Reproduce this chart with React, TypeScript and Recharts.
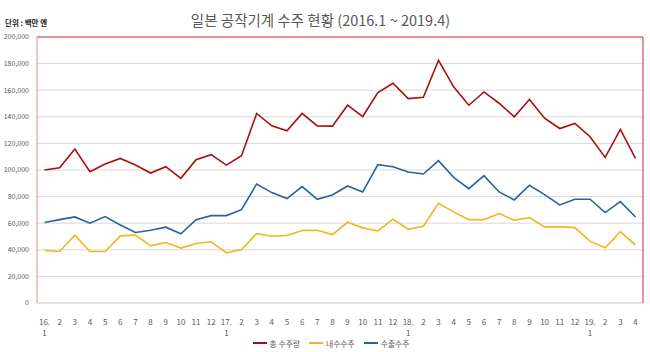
import React from "react";
import { LineChart, Line, XAxis, YAxis, CartesianGrid, Legend, ReferenceLine } from "recharts";

const periods = [
  "2016.1","2016.2","2016.3","2016.4","2016.5","2016.6","2016.7","2016.8","2016.9","2016.10","2016.11","2016.12",
  "2017.1","2017.2","2017.3","2017.4","2017.5","2017.6","2017.7","2017.8","2017.9","2017.10","2017.11","2017.12",
  "2018.1","2018.2","2018.3","2018.4","2018.5","2018.6","2018.7","2018.8","2018.9","2018.10","2018.11","2018.12",
  "2019.1","2019.2","2019.3","2019.4",
];
const tickLabels = [
  "16.|1","2","3","4","5","6","7","8","9","10","11","12",
  "17.|1","2","3","4","5","6","7","8","9","10","11","12",
  "18.|1","2","3","4","5","6","7","8","9","10","11","12",
  "19.|1","2","3","4",
];
const totalOrders = [100000,101700,115700,98700,104500,108700,103700,97700,102500,93700,107700,111500,103700,110700,142500,133200,129500,142500,133200,133000,148700,140200,158200,165200,153700,154700,182500,162500,148700,158700,150200,140000,153000,139000,131200,135000,125000,109500,130500,108700];
const domesticOrders = [39500,38700,51000,38700,38700,50500,51000,43000,45500,41300,44700,46000,37700,40200,52200,50200,50700,54500,54700,51500,60700,56500,54200,63000,55500,57700,75000,68500,62700,62700,67200,62200,64200,57200,57200,56700,46500,41500,53700,43500];
const exportOrders = [60500,62700,64700,60000,65000,58700,53000,54700,57000,52000,62700,65700,65700,70200,89500,83000,78500,87500,78000,81200,88000,83500,104000,102500,98500,97000,107000,94500,86000,95700,83500,77500,88500,81500,73700,78000,78000,68000,76200,64700];
const yTicks = [0,20000,40000,60000,80000,100000,120000,140000,160000,180000,200000];

const seriesKeys = ["total", "domestic", "export"];
const seriesNames = ["총 수주량", "내수수주", "수출수주"];
const seriesColors = ["#a80f0f", "#f2b61b", "#24649f"];
const title = "일본 공작기계 수주 현황 (2016.1 ~ 2019.4)";
const unitLabel = "단위 : 백만 엔";

const data = periods.map((p, i) => ({
  period: p,
  total: totalOrders[i],
  domestic: domesticOrders[i],
  export: exportOrders[i],
}));

const FONT = "'Noto Sans CJK KR', 'Noto Sans', sans-serif";
const GRAY = "#595959";

const XTick = (props: any) => {
  const { x, y, index } = props;
  const lbl = tickLabels[index] ?? "";
  const parts = lbl.split("|");
  return (
    <g transform={`translate(${x},${y})`}>
      <text x={0} y={14} textAnchor="middle" fontSize={8} fill={GRAY} fontFamily={FONT}>{parts[0]}</text>
      {parts[1] && (
        <text x={0} y={25} textAnchor="middle" fontSize={8} fill={GRAY} fontFamily={FONT}>{parts[1]}</text>
      )}
    </g>
  );
};

const LegendContent = () => (
  <div style={{ display: "flex", justifyContent: "center", alignItems: "center", height: 14, paddingLeft: 18, fontSize: 7.8, fontFamily: FONT, color: GRAY, lineHeight: "9px" }}>
    {seriesNames.map((n, i) => (
      <div key={n} style={{ display: "flex", alignItems: "center", marginRight: i < seriesNames.length - 1 ? 9 : 0 }}>
        <svg width={14} height={4} style={{ marginRight: 3 }}>
          <line x1={0} y1={2} x2={14} y2={2} stroke={seriesColors[i]} strokeWidth={2} />
        </svg>
        <span>{n}</span>
      </div>
    ))}
  </div>
);

export default function App() {
  return (
    <div style={{ position: "absolute", left: 0, top: 0, width: 650, height: 352, background: "#fff", fontFamily: FONT }}>
      <div style={{ position: "absolute", left: 0, top: 9, width: 641, textAlign: "center", fontSize: 14.5, color: GRAY, whiteSpace: "nowrap" }}>{title}</div>
      <div style={{ position: "absolute", left: 5, top: 17, fontSize: 7.5, fontWeight: 700, color: "#222", whiteSpace: "nowrap" }}>{unitLabel}</div>
      <LineChart width={650} height={352} data={data} margin={{ top: 37, right: 6, bottom: 2, left: 0 }}>
        <CartesianGrid vertical={false} stroke="#d9d9d9" />
        <XAxis
          dataKey="period"
          interval={0}
          tickLine={false}
          axisLine={{ stroke: "#d9d9d9" }}
          tick={<XTick />}
          height={33}
          padding={{ left: 7.5, right: 7.5 }}
        />
        <YAxis
          domain={[0, 200000]}
          ticks={yTicks}
          width={37}
          tickLine={false}
          axisLine={{ stroke: "#f08a8a" }}
          tickSize={0}
          tickMargin={8}
          tick={{ fontSize: 7, fill: GRAY, fontFamily: FONT }}
          tickFormatter={(v: number) => v.toLocaleString("en-US")}
          interval={0}
        />
        <YAxis yAxisId="right" orientation="right" domain={[0, 200000]} tick={false} tickLine={false} width={1} axisLine={{ stroke: "#d42a2a" }} />
        <ReferenceLine y={200000} stroke="#e03c3c" strokeWidth={1} />
        <Legend verticalAlign="bottom" align="center" height={14} content={<LegendContent />} />
        {seriesKeys.map((k, i) => (
          <Line key={k} type="linear" dataKey={k} name={seriesNames[i]} stroke={seriesColors[i]} strokeWidth={1.6} dot={false} isAnimationActive={false} />
        ))}
      </LineChart>
    </div>
  );
}
